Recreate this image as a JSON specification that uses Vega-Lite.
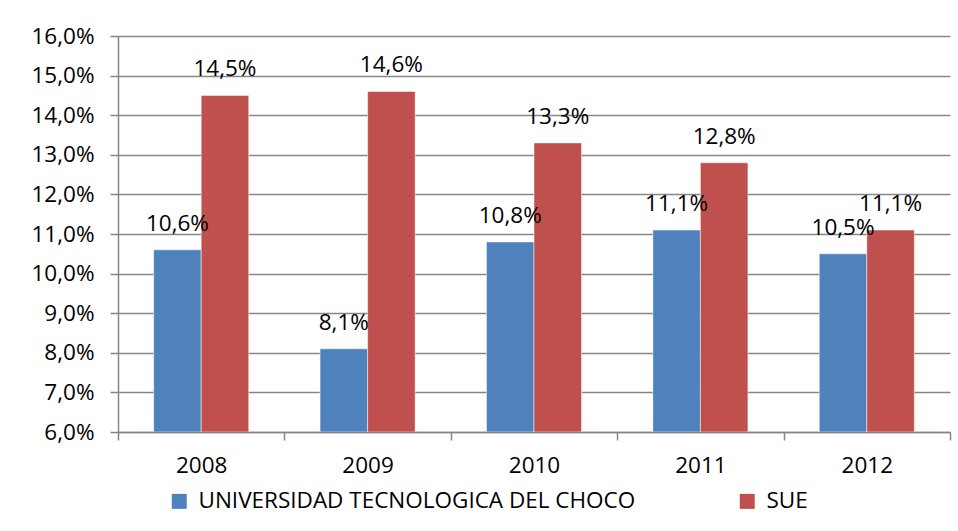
{
  "$schema": "https://vega.github.io/schema/vega-lite/v6.json",
  "width": 832,
  "height": 396,
  "autosize": {"type": "none"},
  "padding": {"left": 118, "top": 36, "right": 8, "bottom": 99},
  "config": {
    "locale": {"number": {"decimal": ",", "thousands": ".", "grouping": [3], "currency": ["", " €"]}},
    "view": {"stroke": null},
    "font": "Open Sans"
  },
  "data": {
    "values": [
      {"year": "2008", "serie": "UNIVERSIDAD TECNOLOGICA DEL CHOCO", "value": 0.106},
      {"year": "2008", "serie": "SUE", "value": 0.145},
      {"year": "2009", "serie": "UNIVERSIDAD TECNOLOGICA DEL CHOCO", "value": 0.081},
      {"year": "2009", "serie": "SUE", "value": 0.146},
      {"year": "2010", "serie": "UNIVERSIDAD TECNOLOGICA DEL CHOCO", "value": 0.108},
      {"year": "2010", "serie": "SUE", "value": 0.133},
      {"year": "2011", "serie": "UNIVERSIDAD TECNOLOGICA DEL CHOCO", "value": 0.111},
      {"year": "2011", "serie": "SUE", "value": 0.128},
      {"year": "2012", "serie": "UNIVERSIDAD TECNOLOGICA DEL CHOCO", "value": 0.105},
      {"year": "2012", "serie": "SUE", "value": 0.111}
    ]
  },
  "encoding": {
    "x": {
      "field": "year",
      "type": "ordinal",
      "scale": {"paddingInner": 0, "paddingOuter": 0},
      "axis": {
        "title": null,
        "labelAngle": 0,
        "labelFontSize": 22.5,
        "labelColor": "#000000",
        "labelPadding": 14,
        "tickBand": "extent",
        "tickSize": 8,
        "tickColor": "#868686",
        "tickWidth": 1.5,
        "domainColor": "#868686",
        "domainWidth": 1.5,
        "grid": false
      }
    },
    "xOffset": {
      "field": "serie",
      "type": "nominal",
      "sort": ["UNIVERSIDAD TECNOLOGICA DEL CHOCO", "SUE"],
      "scale": {"paddingInner": 0, "paddingOuter": 0.75}
    },
    "y": {
      "field": "value",
      "type": "quantitative",
      "scale": {"domain": [0.06, 0.16], "zero": false, "nice": false},
      "axis": {
        "title": null,
        "format": ".1%",
        "values": [0.06, 0.07, 0.08, 0.09, 0.1, 0.11, 0.12, 0.13, 0.14, 0.15, 0.16],
        "labelOverlap": false,
        "labelFontSize": 22.5,
        "labelColor": "#000000",
        "labelPadding": 16,
        "tickSize": 8,
        "tickColor": "#868686",
        "tickWidth": 1.5,
        "domainColor": "#868686",
        "domainWidth": 1.5,
        "gridColor": "#868686",
        "gridWidth": 1.5
      }
    }
  },
  "layer": [
    {
      "mark": {"type": "bar", "clip": true, "stroke": "#ffffff", "strokeWidth": 0.5},
      "encoding": {
        "y2": {"datum": 0.06},
        "color": {
          "field": "serie",
          "type": "nominal",
          "sort": ["UNIVERSIDAD TECNOLOGICA DEL CHOCO", "SUE"],
          "scale": {"domain": ["UNIVERSIDAD TECNOLOGICA DEL CHOCO", "SUE"], "range": ["#4F81BD", "#C0504D"]},
          "legend": {
            "title": null,
            "orient": "none",
            "direction": "horizontal",
            "legendX": 50,
            "legendY": 454,
            "symbolType": "square",
            "symbolSize": 225,
            "symbolStrokeWidth": 0,
            "labelFontSize": 22.5,
            "labelColor": "#000000",
            "labelLimit": 600,
            "columnPadding": 100,
            "symbolOffset": 0,
            "labelOffset": 8
          }
        }
      }
    },
    {
      "mark": {"type": "text", "baseline": "alphabetic", "dy": -19, "fontSize": 22.5, "color": "#000000"},
      "encoding": {
        "text": {"field": "value", "type": "quantitative", "format": ".1%"}
      }
    }
  ]
}
